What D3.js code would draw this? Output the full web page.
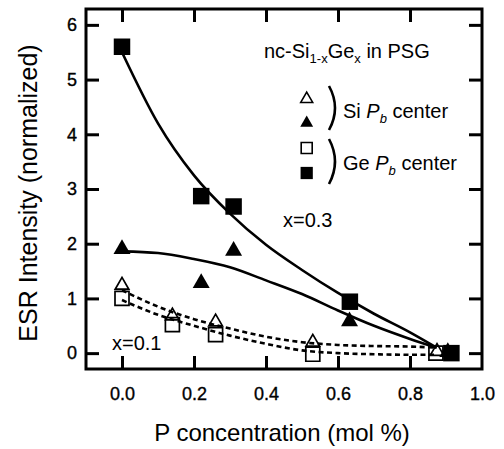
<!DOCTYPE html>
<html><head><meta charset="utf-8">
<script src="https://cdn.jsdelivr.net/npm/d3@7"></script>
<style>
body{margin:0;background:#fff}
text{font-family:"Liberation Sans",Arial,Helvetica,sans-serif;fill:#000}
</style></head>
<body><svg id="c" width="504" height="449"></svg>
<script>
// ---- data ----
const xTicks = [0.0, 0.2, 0.4, 0.6, 0.8, 1.0];
const yTicks = [0, 1, 2, 3, 4, 5, 6];

// Ge Pb center, x=0.3 (filled squares)
const geFilledX = [0.0, 0.22, 0.31, 0.633, 0.915];
const geFilledY = [5.6, 2.87, 2.68, 0.94, 0.0];
// Si Pb center, x=0.3 (filled triangles)
const siFilledX = [0.0, 0.22, 0.31, 0.632, 0.905];
const siFilledY = [1.9, 1.28, 1.87, 0.58, 0.02];
// Si Pb center, x=0.1 (open triangles)
const siOpenX = [0.0, 0.14, 0.26, 0.53, 0.875];
const siOpenY = [1.24, 0.68, 0.57, 0.2, 0.03];
// Ge Pb center, x=0.1 (open squares)
const geOpenX = [0.0, 0.14, 0.26, 0.53, 0.872];
const geOpenY = [1.0, 0.52, 0.34, -0.02, 0.0];

// guide curves
const curveX = [0.0, 0.1, 0.2, 0.3, 0.4, 0.5, 0.6, 0.7, 0.8, 0.874];
const fitGe3 = [5.5, 4.2, 3.25, 2.55, 1.98, 1.52, 1.1, 0.72, 0.38, 0.1];
const fitSi3 = [1.86, 1.83, 1.72, 1.57, 1.33, 1.08, 0.78, 0.5, 0.26, 0.1];
const fitSi1 = [1.15, 0.85, 0.62, 0.45, 0.3, 0.2, 0.15, 0.13, 0.12, 0.1];
const fitGe1 = [0.97, 0.7, 0.5, 0.32, 0.17, 0.05, 0.0, -0.02, -0.03, -0.03];

// ---- chart ----
const svg = d3.select("#c");
const L = 86, R = 482, T = 9, B = 369;
const x = d3.scaleLinear().domain([-0.1, 1.0]).range([L, R]);
const y = d3.scaleLinear().domain([-0.29, 6.29]).range([B, T]);

function styleAxis(g){
  g.select(".domain").remove();
  g.selectAll(".tick line").attr("stroke","#000").attr("stroke-width",3);
  g.selectAll(".tick text").attr("font-size",18).attr("font-family",'"Liberation Sans",Arial,sans-serif')
    .attr("fill","#000").attr("stroke","#000").attr("stroke-width",0.35);
}
svg.append("g").attr("transform",`translate(0,${B})`)
  .call(d3.axisBottom(x).tickValues(xTicks.slice(0,5)).tickFormat(d3.format(".1f")).tickSizeInner(-13).tickSizeOuter(0).tickPadding(18))
  .call(styleAxis);
// 1.0 label at the corner
svg.append("g").attr("transform",`translate(0,${B})`)
  .call(d3.axisBottom(x).tickValues([1.0]).tickFormat(d3.format(".1f")).tickSizeInner(0).tickSizeOuter(0).tickPadding(18))
  .call(styleAxis);
svg.append("g").attr("transform",`translate(0,${T})`)
  .call(d3.axisTop(x).tickValues(xTicks.slice(0,5)).tickFormat("").tickSizeInner(-13).tickSizeOuter(0))
  .call(styleAxis);
svg.append("g").attr("transform",`translate(${L},0)`)
  .call(d3.axisLeft(y).tickValues(yTicks).tickFormat(d3.format("d")).tickSizeInner(-13).tickSizeOuter(0).tickPadding(9))
  .call(styleAxis);
svg.append("g").attr("transform",`translate(${R},0)`)
  .call(d3.axisRight(y).tickValues(yTicks).tickFormat("").tickSizeInner(-13).tickSizeOuter(0))
  .call(styleAxis);

svg.append("rect").attr("x",L).attr("y",T).attr("width",R-L).attr("height",B-T)
  .attr("fill","none").attr("stroke","#000").attr("stroke-width",3);

// axis titles
svg.append("text").attr("x",(L+R)/2 - 2).attr("y",441).attr("text-anchor","middle")
  .attr("font-size",24).text("P concentration (mol %)");
svg.append("text").attr("transform",`translate(37,${(T+B)/2 + 4}) rotate(-90)`).attr("text-anchor","middle")
  .attr("font-size",25).text("ESR Intensity (normalized)");

// curves
const line = d3.line().x(d=>x(d[0])).y(d=>y(d[1])).curve(d3.curveMonotoneX);
function drawCurve(ys, dashed){
  svg.append("path").datum(curveX.map((v,i)=>[v, ys[i]]))
    .attr("d", line).attr("fill","none").attr("stroke","#000")
    .attr("stroke-width", 2.6)
    .attr("stroke-dasharray", dashed ? "5,3.5" : null);
}
drawCurve(fitGe3,false);
drawCurve(fitSi3,false);
drawCurve(fitSi1,true);
drawCurve(fitGe1,true);

// markers
function drawMarkers(xs, ys, type, size, filled){
  svg.append("g").selectAll("path").data(xs.map((v,i)=>[v, ys[i]])).join("path")
    .attr("transform", d=>`translate(${x(d[0])},${y(d[1])})`)
    .attr("d", d3.symbol().type(type).size(size))
    .attr("fill", filled ? "#000" : "none")
    .attr("stroke", "#000").attr("stroke-width", filled ? 0 : 1.7);
}
drawMarkers(geOpenX, geOpenY, d3.symbolSquare, 196, false);
drawMarkers(siOpenX, siOpenY, d3.symbolTriangle, 80, false);
drawMarkers(siFilledX, siFilledY, d3.symbolTriangle, 125, true);
drawMarkers(geFilledX, geFilledY, d3.symbolSquare, 272, true);

// annotations
svg.append("text").attr("x",283).attr("y",227).attr("font-size",20).text("x=0.3");
svg.append("text").attr("x",112).attr("y",350).attr("font-size",20).text("x=0.1");

// legend title
const t = svg.append("text").attr("x",264).attr("y",58).attr("font-size",20);
t.append("tspan").text("nc-Si");
t.append("tspan").attr("font-size",13).attr("dy",5).text("1-x");
t.append("tspan").attr("dy",-5).text("Ge");
t.append("tspan").attr("font-size",13).attr("dy",5).text("x");
t.append("tspan").attr("dy",-5).text(" in PSG");

// legend markers
const lx = 306.7;
const legendItems = [
  {y:99, type:d3.symbolTriangle, size:62, filled:false},
  {y:123, type:d3.symbolTriangle, size:72, filled:true},
  {y:148, type:d3.symbolSquare, size:121, filled:false},
  {y:173, type:d3.symbolSquare, size:150, filled:true}
];
svg.append("g").selectAll("path").data(legendItems).join("path")
  .attr("transform", d=>`translate(${lx},${d.y})`)
  .attr("d", d=>d3.symbol().type(d.type).size(d.size)())
  .attr("fill", d=>d.filled?"#000":"none")
  .attr("stroke","#000").attr("stroke-width", d=>d.filled?0:1.6);

// brackets
function bracket(y0,y1){
  svg.append("path")
    .attr("d",`M329,${y0} Q341,${(y0+y1)/2} 329,${y1}`)
    .attr("fill","none").attr("stroke","#000").attr("stroke-width",2.6);
}
bracket(86,130);
bracket(139,184);

function pbLabel(prefix, yy){
  const tx = svg.append("text").attr("x",343).attr("y",yy).attr("font-size",20);
  tx.append("tspan").text(prefix + " ");
  tx.append("tspan").attr("font-style","italic").text("P");
  tx.append("tspan").attr("font-style","italic").attr("font-size",13).attr("dy",5).text("b");
  tx.append("tspan").attr("dy",-5).text(" center");
}
pbLabel("Si",118);
pbLabel("Ge",170);
</script></body></html>
